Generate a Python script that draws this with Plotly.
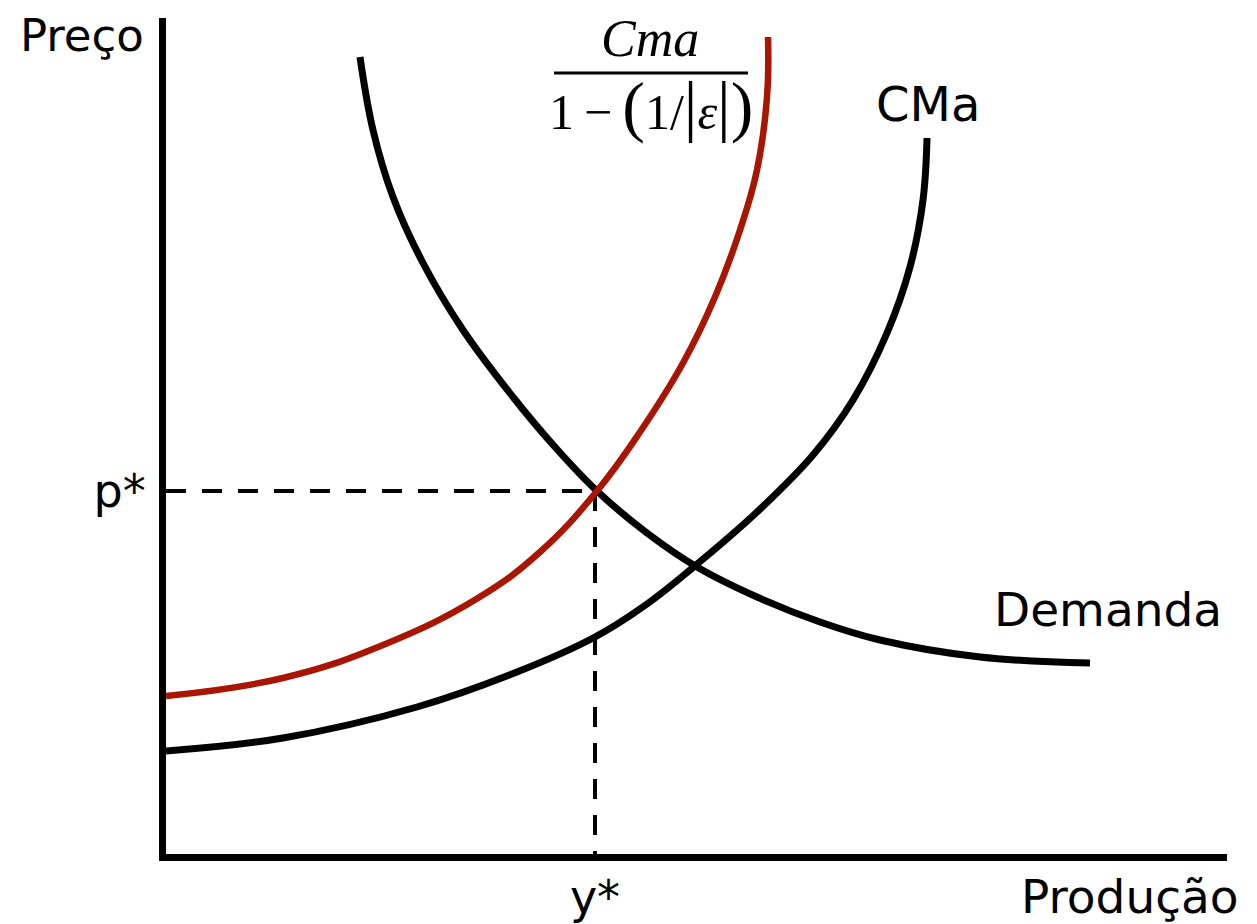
import plotly.graph_objects as go

# Curves (production, price); origin at the axes corner
demanda_x = [194, 207, 227, 257, 297, 347, 389, 431, 481, 531, 591, 654, 714, 814, 924]
demanda_y = [797, 724, 657, 591, 524, 457, 407, 363, 321, 287, 257, 232, 214, 197, 191]

markup_x = [0, 117, 217, 312, 374, 431, 474, 517, 549, 574, 591, 601, 602]
markup_y = [158, 176, 209, 256, 302, 363, 422, 491, 557, 624, 684, 757, 817]

cma_x = [0, 117, 251, 351, 429, 481, 530, 591, 647, 687, 721, 744, 757, 761]
cma_y = [103, 116, 147, 182, 217, 250, 289, 342, 399, 454, 521, 587, 654, 716]

p_star = 363
y_star = 429
tick_labels = ["p*", "y*"]

SANS = "DejaVu Sans"
SERIF = "Liberation Serif"
RED = "#a81500"

fig = go.Figure()

# equilibrium guide lines
fig.add_trace(go.Scatter(x=[0, y_star + 2], y=[p_star, p_star], mode="lines",
                         line=dict(color="black", width=4, dash="20px,16px"),
                         hoverinfo="skip", showlegend=False))
fig.add_trace(go.Scatter(x=[y_star, y_star], y=[p_star, 0], mode="lines",
                         line=dict(color="black", width=4, dash="20px,16px"),
                         hoverinfo="skip", showlegend=False))

fig.add_trace(go.Scatter(x=cma_x, y=cma_y, mode="lines", line_shape="spline",
                         line=dict(color="black", width=7, smoothing=1.1),
                         name="CMa", showlegend=False))
fig.add_trace(go.Scatter(x=demanda_x, y=demanda_y, mode="lines", line_shape="spline",
                         line=dict(color="black", width=7, smoothing=1.1),
                         name="Demanda", showlegend=False))
fig.add_trace(go.Scatter(x=markup_x, y=markup_y, mode="lines", line_shape="spline",
                         line=dict(color=RED, width=6.5, smoothing=1.2),
                         name="Cma/(1-1/|e|)", showlegend=False))

# page body has an 8px margin, so the canvas is placed 8px right/down
OFF = 8
W, H = 1257, 924
PL, PT, PR, PB = 166, 18, 1227, 854        # plot edges in window pixels
L, T = PL - OFF, PT - OFF
R, B = W - (PR - OFF), H - (PB - OFF)
PW, PH = PR - PL, PB - PT

fig.update_layout(
    width=W, height=H,
    margin=dict(l=L, r=R, t=T, b=B, autoexpand=False),
    paper_bgcolor="white", plot_bgcolor="white",
    showlegend=False,
    xaxis=dict(range=[0, PW], showgrid=False, zeroline=False, automargin=False,
               showline=True, linecolor="black", linewidth=7,
               tickmode="array", tickvals=[y_star], ticktext=[tick_labels[1]],
               ticks="", ticklabelstandoff=-3,
               tickfont=dict(family=SANS, size=46, color="black"), fixedrange=True),
    yaxis=dict(range=[0, PH], showgrid=False, zeroline=False, automargin=False,
               showline=True, linecolor="black", linewidth=7,
               tickmode="array", tickvals=[p_star], ticktext=[tick_labels[0]],
               ticks="", ticklabelstandoff=4,
               tickfont=dict(family=SANS, size=46, color="black"), fixedrange=True),
)

def label(text, px, py, family=SANS, size=47, **kw):
    # px, py: centre of the text in window pixels
    fig.add_annotation(x=(px - PL) / PW, y=(PB - py) / PH, xref="paper", yref="paper",
                       text=text, showarrow=False,
                       font=dict(family=family, size=size, color="black"),
                       xanchor="center", yanchor="middle", **kw)

label("Preço", 82, 35, size=45)
label("Produção", 1130, 896)
label("CMa", 928, 104, size=48)
label("Demanda", 1108, 610)

# formula  Cma / (1 - (1/|ε|))
label("<i>Cma</i>", 650, 38, family=SERIF, size=52)
fig.add_shape(type="line", x0=(554 - PL) / PW, x1=(748 - PL) / PW,
              y0=(PB - 73) / PH, y1=(PB - 73) / PH, xref="paper", yref="paper",
              line=dict(color="black", width=3))
big = "<span style='font-size:68px'>%s</span>"
den = "1\u2009−\u2009" + big % "(" + "1/" + big % "|" + "<i>ε</i>" + big % "|" + big % ")"
label(den, 651, 106, family=SERIF, size=50)

fig.write_html("out.html")
